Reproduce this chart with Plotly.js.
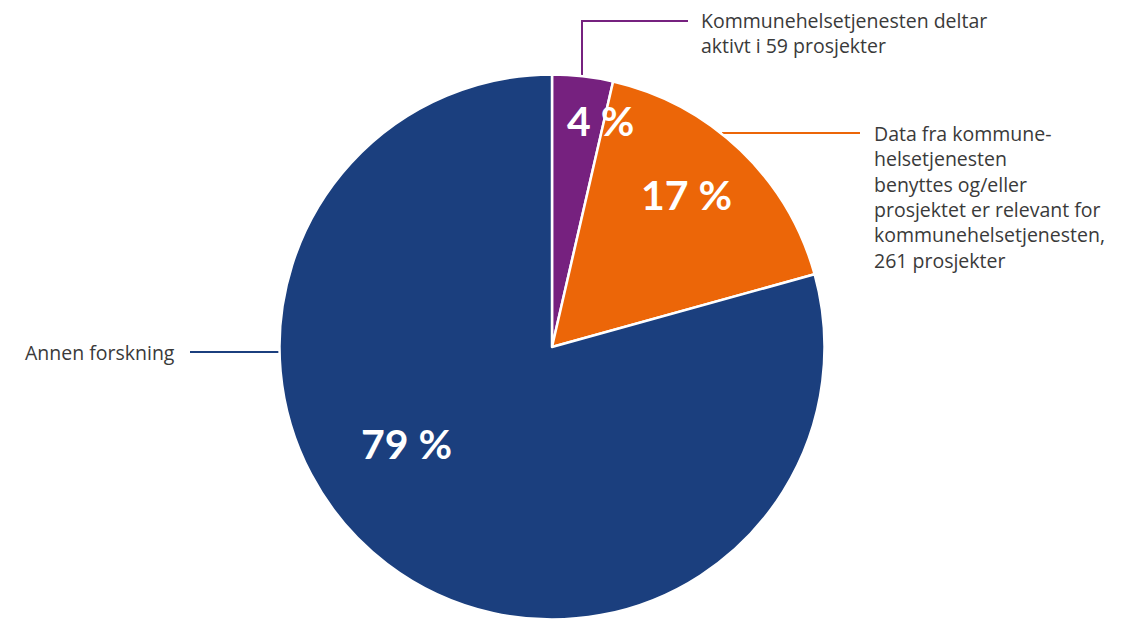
<!DOCTYPE html>
<html>
<head>
<meta charset="utf-8">
<script src="https://cdn.plot.ly/plotly-3.0.1.min.js"></script>
<style>html,body{margin:0;padding:0;background:#fff;}#chart{width:1129px;height:620px;}</style>
</head>
<body>
<div id="chart"></div>
<script>
// Data
const categories = [
  "Kommunehelsetjenesten deltar<br>aktivt i 59 prosjekter",
  "Data fra kommune-<br>helsetjenesten<br>benyttes og/eller<br>prosjektet er relevant for<br>kommunehelsetjenesten,<br>261 prosjekter",
  "Annen forskning"
];
const shares = [3.6, 17.1, 79.3];
const shareLabels = ["4 %", "17 %", "79 %"];
const colors = ["#76217f", "#ec6608", "#1b3f7e"];

const W = 1129, H = 620;
const px = x => x / W;
const py = y => 1 - y / H;

// pie geometry (pixels)
const cx = 552, cy = 347, R = 272.5;

const trace = {
  type: "pie",
  values: shares,
  labels: categories,
  sort: false,
  direction: "clockwise",
  rotation: 0,
  textinfo: "none",
  hoverinfo: "label+percent",
  marker: { colors: colors, line: { color: "#ffffff", width: 2.5 } },
  domain: { x: [px(cx - R), px(cx + R)], y: [py(cy + R), py(cy - R)] },
  showlegend: false
};

const textFont = { family: "'Open Sans', sans-serif", size: 19.5, color: "#3a3a3a" };
const pctFont = { family: "Lato, 'Open Sans', sans-serif", size: 41, color: "#ffffff", weight: 700 };

const pctPos = [[600, 120], [686, 195], [406, 443]];

const annotations = [
  { x: px(699), y: py(5), text: categories[0], xanchor: "left", yanchor: "top", align: "left" },
  { x: px(872), y: py(118), text: categories[1], xanchor: "left", yanchor: "top", align: "left" },
  { x: px(177), y: py(352), text: categories[2], xanchor: "right", yanchor: "middle", align: "right" }
].map(a => Object.assign(a, { xref: "paper", yref: "paper", showarrow: false, font: textFont }));

shareLabels.forEach((t, i) => {
  annotations.push({ x: px(pctPos[i][0]), y: py(pctPos[i][1]), text: t, xref: "paper", yref: "paper",
    showarrow: false, xanchor: "center", yanchor: "middle", font: pctFont });
});

const lineW = 2;
const shapes = [
  { type: "path", path: `M ${px(582)} ${py(76)} L ${px(582)} ${py(21)} L ${px(688)} ${py(21)}`, line: { color: colors[0], width: lineW } },
  { type: "line", x0: px(722), y0: py(133), x1: px(860), y1: py(133), line: { color: colors[1], width: lineW } },
  { type: "line", x0: px(190), y0: py(352), x1: px(282), y1: py(352), line: { color: colors[2], width: lineW } }
].map(s => Object.assign(s, { xref: "paper", yref: "paper", layer: "below" }));

const layout = {
  width: W, height: H,
  margin: { l: 0, r: 0, t: 0, b: 0 },
  paper_bgcolor: "#ffffff",
  annotations: annotations,
  shapes: shapes
};

Plotly.newPlot("chart", [trace], layout, { displayModeBar: false, staticPlot: true });
</script>
</body>
</html>
